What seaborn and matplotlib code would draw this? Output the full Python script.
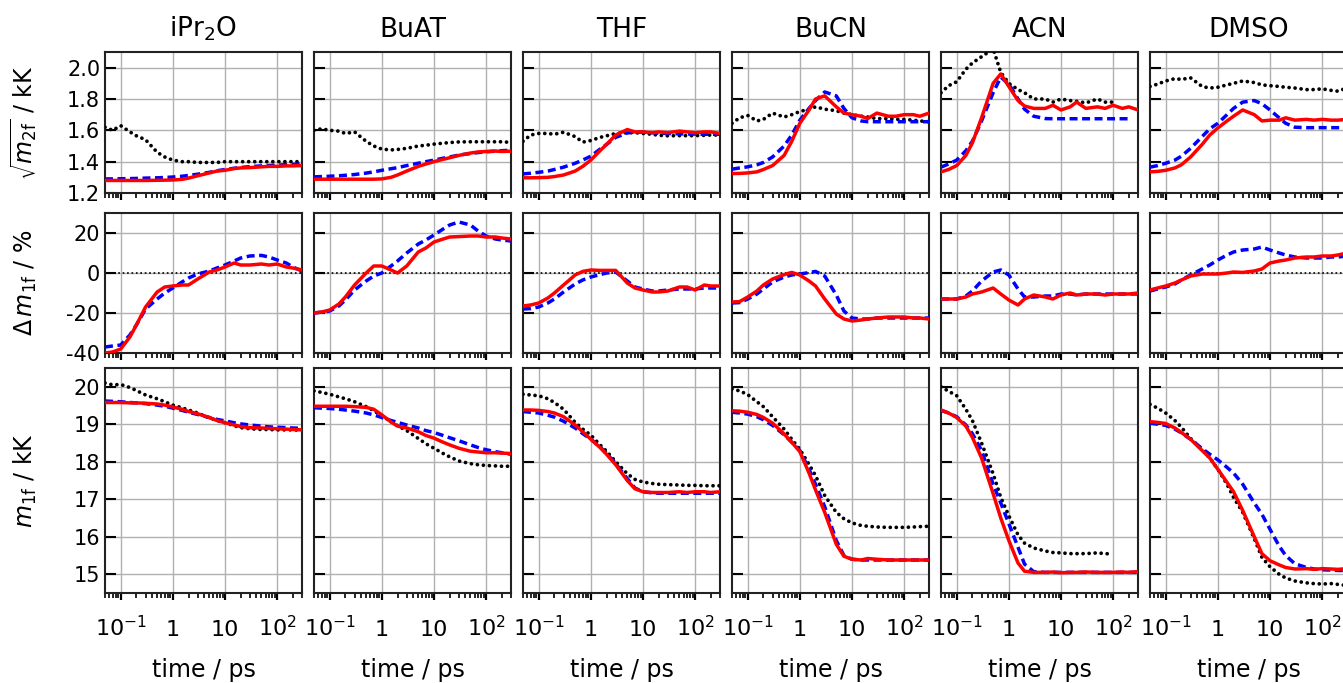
import numpy as np
import pandas as pd
import matplotlib
matplotlib.use("Agg")
from matplotlib import pyplot as plt
from matplotlib import ticker
import seaborn as sns

sns.set_style("ticks")
plt.rcParams["font.family"] = ["DejaVu Sans"]
plt.rcParams["mathtext.fontset"] = "dejavusans"
plt.rcParams["axes.unicode_minus"] = False
plt.rcParams["text.color"] = "black"
plt.rcParams["axes.labelcolor"] = "black"
plt.rcParams["xtick.color"] = "black"
plt.rcParams["ytick.color"] = "black"

nan = np.nan

# common time axis (ps)
time_ps = [0.05, 0.07, 0.1, 0.15, 0.2, 0.3, 0.5, 0.7, 1, 1.5, 2, 3, 5, 7,
           10, 15, 20, 30, 50, 70, 100, 150, 200, 300]

solvents = ["iPr$_2$O", "BuAT", "THF", "BuCN", "ACN", "DMSO"]

# --- sqrt(m2f) / kK : exp = black dots, sim = red solid, mod = blue dashed
ipr_sq_exp = [1.62, 1.60, 1.63, 1.59, 1.565, 1.54, 1.46, 1.43, 1.41, 1.40, 1.40, 1.395, 1.395, 1.395, 1.40, 1.40, 1.40, 1.40, 1.40, 1.40, 1.40, 1.40, 1.40, 1.40]
ipr_sq_sim = [1.28, 1.28, 1.28, 1.28, 1.28, 1.28, 1.281, 1.282, 1.283, 1.287, 1.295, 1.31, 1.328, 1.34, 1.345, 1.356, 1.36, 1.362, 1.367, 1.37, 1.37, 1.373, 1.373, 1.375]
ipr_sq_mod = [1.29, 1.29, 1.291, 1.292, 1.293, 1.295, 1.297, 1.299, 1.302, 1.307, 1.312, 1.32, 1.332, 1.342, 1.35, 1.358, 1.363, 1.368, 1.373, 1.376, 1.378, 1.381, 1.383, 1.386]
buat_sq_exp = [1.60, 1.61, 1.60, 1.595, 1.58, 1.59, 1.53, 1.50, 1.48, 1.475, 1.478, 1.485, 1.50, 1.505, 1.512, 1.518, 1.522, 1.526, 1.527, 1.527, 1.527, 1.527, 1.527, 1.523]
buat_sq_sim = [1.288, 1.288, 1.288, 1.288, 1.288, 1.288, 1.288, 1.288, 1.29, 1.30, 1.315, 1.34, 1.37, 1.385, 1.40, 1.415, 1.425, 1.44, 1.455, 1.462, 1.465, 1.468, 1.465, 1.467]
buat_sq_mod = [1.303, 1.305, 1.307, 1.31, 1.313, 1.318, 1.327, 1.335, 1.345, 1.355, 1.362, 1.375, 1.39, 1.40, 1.41, 1.422, 1.43, 1.442, 1.452, 1.458, 1.463, 1.467, 1.47, 1.473]
thf_sq_exp = [1.53, 1.57, 1.58, 1.58, 1.575, 1.588, 1.56, 1.525, 1.535, 1.555, 1.565, 1.58, 1.585, 1.585, 1.58, 1.575, 1.568, 1.565, 1.566, 1.566, 1.566, 1.568, 1.57, 1.57]
thf_sq_sim = [1.297, 1.297, 1.298, 1.30, 1.305, 1.315, 1.34, 1.37, 1.41, 1.47, 1.51, 1.57, 1.605, 1.59, 1.59, 1.585, 1.59, 1.585, 1.595, 1.59, 1.585, 1.59, 1.59, 1.58]
thf_sq_mod = [1.322, 1.326, 1.332, 1.34, 1.35, 1.365, 1.39, 1.41, 1.435, 1.48, 1.51, 1.555, 1.583, 1.59, 1.588, 1.585, 1.582, 1.58, 1.578, 1.577, 1.576, 1.575, 1.575, 1.575]
bucn_sq_exp = [1.645, 1.68, 1.695, 1.66, 1.67, 1.71, 1.685, 1.70, 1.72, 1.735, 1.75, 1.735, 1.725, 1.71, 1.70, 1.69, 1.685, 1.675, 1.675, 1.67, 1.67, 1.665, 1.66, 1.655]
bucn_sq_sim = [1.324, 1.325, 1.328, 1.335, 1.35, 1.375, 1.44, 1.53, 1.645, 1.73, 1.80, 1.82, 1.75, 1.71, 1.70, 1.69, 1.675, 1.71, 1.69, 1.69, 1.70, 1.70, 1.69, 1.71]
bucn_sq_mod = [1.352, 1.36, 1.367, 1.38, 1.395, 1.43, 1.50, 1.57, 1.665, 1.74, 1.79, 1.845, 1.82, 1.74, 1.68, 1.66, 1.655, 1.655, 1.655, 1.655, 1.655, 1.655, 1.655, 1.655]
acn_sq_exp = [1.84, 1.885, 1.91, 1.99, 2.03, 2.07, 2.12, 1.97, 1.90, 1.86, 1.84, 1.80, 1.80, 1.78, 1.80, 1.79, 1.785, 1.775, 1.80, 1.78, 1.78, nan, nan, nan]
acn_sq_sim = [1.335, 1.35, 1.375, 1.44, 1.52, 1.68, 1.90, 1.96, 1.88, 1.79, 1.755, 1.74, 1.74, 1.76, 1.73, 1.75, 1.78, 1.74, 1.75, 1.74, 1.76, 1.74, 1.75, 1.73]
acn_sq_mod = [1.365, 1.385, 1.41, 1.47, 1.53, 1.66, 1.84, 1.94, 1.895, 1.80, 1.735, 1.69, 1.675, 1.674, 1.674, 1.674, 1.674, 1.674, 1.674, 1.674, 1.674, 1.674, 1.674, nan]
dmso_sq_exp = [1.88, 1.895, 1.915, 1.93, 1.925, 1.935, 1.88, 1.87, 1.875, 1.89, 1.90, 1.915, 1.905, 1.89, 1.885, 1.88, 1.875, 1.87, 1.86, 1.86, 1.865, 1.855, 1.85, 1.87]
dmso_sq_sim = [1.335, 1.338, 1.345, 1.36, 1.38, 1.43, 1.51, 1.57, 1.615, 1.66, 1.69, 1.73, 1.70, 1.66, 1.665, 1.665, 1.68, 1.665, 1.67, 1.665, 1.67, 1.665, 1.665, 1.67]
dmso_sq_mod = [1.365, 1.375, 1.39, 1.41, 1.435, 1.485, 1.56, 1.61, 1.645, 1.70, 1.74, 1.78, 1.79, 1.77, 1.73, 1.68, 1.645, 1.62, 1.617, 1.617, 1.617, 1.617, 1.617, 1.617]

# --- Delta m1f / %
ipr_d_sim = [-40, -39.5, -38, -32, -26, -17, -9.5, -7, -6.5, -6, -6, -3, 0.5, 1.5, 3, 5, 4, 4, 4.5, 4, 4.5, 3, 2.5, 1.5]
ipr_d_mod = [-37, -36.5, -36, -31, -26, -18, -13, -10, -7.5, -4.5, -2.5, -0.5, 1, 2.5, 4, 6, 7.5, 8.5, 8.8, 8, 6.5, 5, 3, 1]
buat_d_sim = [-20, -19.5, -18.5, -15.5, -12, -6, 0, 3.5, 3.5, 1.5, 0, 3.5, 10.5, 12.5, 15.5, 17, 18, 18.2, 18.5, 18.5, 18, 18, 17.5, 17]
buat_d_mod = [-20, -19.6, -19, -16.5, -13.5, -8.5, -4, -1.5, 0, 3.5, 6, 10, 14.5, 16.5, 19, 22, 24, 25.5, 24, 21, 18.5, 17, 16.5, 16]
thf_d_sim = [-16.5, -16, -15, -12.5, -10, -6, -1, 0.8, 1.5, 1.3, 1.3, 1.3, -5, -7.5, -8.5, -9.5, -9.5, -9, -7, -7, -8.5, -6, -6.5, -6.5]
thf_d_mod = [-18, -17.8, -17, -15, -13, -9.5, -5.5, -3.5, -2, -0.8, 0, 0.5, -4, -7, -8, -9, -9, -8.5, -8, -8, -8, -7.5, -7.5, -7.5]
bucn_d_sim = [-14.5, -14.3, -12, -9, -6, -3, -0.8, 0.3, -1, -4, -6.5, -13, -20.5, -23, -24, -23.5, -23, -22.5, -22, -22, -22, -22.5, -22.5, -23]
bucn_d_mod = [-15, -14.8, -13, -10.5, -8, -4.5, -2, -1, -0.5, 0.2, 0.8, -1.5, -11, -19, -22.5, -23, -23, -22.5, -22.5, -22.5, -22.5, -22.5, -22.5, -22.5]
acn_d_sim = [-13, -13, -13, -12, -10.5, -9.5, -7.5, -10.5, -13.5, -16, -13, -11, -12, -13, -11, -10, -11, -10.5, -10.5, -11, -10.5, -10.5, -10.5, -10]
acn_d_mod = [-13, -13, -13, -11.5, -9, -4, 0.5, 1.5, -1, -8, -12, -12, -11.5, -11.5, -10.5, -10.5, -11, -10.5, -10.5, -10.5, -10.5, -10.5, -10.5, -10.5]
dmso_d_sim = [-8.5, -7.5, -6.5, -5, -3.5, -1.5, -0.5, -0.5, -0.5, 0, 0.5, 0.3, 1, 2, 5, 6, 6.5, 7.5, 8, 8, 8.5, 8.5, 9, 10]
dmso_d_mod = [-9, -8, -7, -5.5, -3.5, -1, 2, 4, 6.5, 9, 10.5, 11.5, 12, 13, 11.5, 10, 9, 8, 7.5, 7.5, 7.5, 8, 8, 8.5]

# --- m1f / kK
ipr_m_exp = [20.1, 20.05, 20.06, 19.98, 19.9, 19.78, 19.68, 19.6, 19.51, 19.44, 19.38, 19.3, 19.17, 19.1, 19.04, 18.96, 18.91, 18.88, 18.86, 18.86, 18.85, 18.85, 18.85, 18.84]
ipr_m_sim = [19.58, 19.58, 19.58, 19.57, 19.57, 19.56, 19.54, 19.51, 19.46, 19.4, 19.34, 19.28, 19.18, 19.1, 19.04, 18.98, 18.94, 18.91, 18.9, 18.89, 18.88, 18.87, 18.86, 18.85]
ipr_m_mod = [19.62, 19.61, 19.6, 19.58, 19.57, 19.55, 19.51, 19.48, 19.43, 19.37, 19.32, 19.26, 19.18, 19.13, 19.09, 19.04, 19.01, 18.98, 18.95, 18.93, 18.92, 18.91, 18.9, 18.89]
buat_m_exp = [19.89, 19.85, 19.8, 19.73, 19.68, 19.6, 19.47, 19.36, 19.23, 19.07, 18.96, 18.83, 18.62, 18.48, 18.36, 18.22, 18.13, 18.02, 17.95, 17.92, 17.9, 17.89, 17.88, 17.88]
buat_m_sim = [19.48, 19.48, 19.48, 19.48, 19.48, 19.47, 19.45, 19.4, 19.25, 19.06, 18.95, 18.9, 18.8, 18.7, 18.63, 18.52, 18.45, 18.36, 18.28, 18.26, 18.24, 18.24, 18.23, 18.22]
buat_m_mod = [19.44, 19.43, 19.42, 19.4, 19.38, 19.35, 19.3, 19.25, 19.18, 19.1, 19.05, 18.98, 18.9, 18.83, 18.78, 18.7, 18.64, 18.56, 18.45, 18.38, 18.32, 18.27, 18.24, 18.2]
thf_m_exp = [19.8, 19.78, 19.76, 19.68, 19.58, 19.4, 19.05, 18.87, 18.71, 18.45, 18.28, 18.0, 17.68, 17.53, 17.46, 17.42, 17.4, 17.39, 17.38, 17.37, 17.37, 17.36, 17.36, 17.36]
thf_m_sim = [19.38, 19.38, 19.37, 19.34, 19.3, 19.2, 18.98, 18.8, 18.6, 18.38, 18.2, 17.92, 17.5, 17.28, 17.2, 17.18, 17.18, 17.18, 17.2, 17.18, 17.2, 17.2, 17.18, 17.2]
thf_m_mod = [19.34, 19.32, 19.3, 19.24, 19.19, 19.08, 18.9, 18.75, 18.6, 18.4, 18.22, 17.95, 17.55, 17.3, 17.2, 17.17, 17.16, 17.16, 17.16, 17.16, 17.16, 17.16, 17.16, 17.16]
bucn_m_exp = [19.94, 19.89, 19.79, 19.6, 19.47, 19.2, 18.87, 18.6, 18.33, 17.93, 17.63, 17.1, 16.65, 16.48, 16.37, 16.3, 16.28, 16.26, 16.25, 16.25, 16.25, 16.26, 16.27, 16.28]
bucn_m_sim = [19.36, 19.35, 19.32, 19.26, 19.18, 19.03, 18.74, 18.52, 18.27, 17.7, 17.25, 16.65, 15.8, 15.48, 15.4, 15.38, 15.42, 15.4, 15.38, 15.38, 15.38, 15.38, 15.38, 15.38]
bucn_m_mod = [19.32, 19.3, 19.27, 19.2, 19.12, 18.97, 18.72, 18.52, 18.3, 17.8, 17.4, 16.8, 15.9, 15.5, 15.4, 15.38, 15.38, 15.38, 15.38, 15.38, 15.38, 15.38, 15.38, 15.38]
acn_m_exp = [20.0, 19.88, 19.76, 19.4, 19.1, 18.5, 17.68, 17.05, 16.56, 16.05, 15.83, 15.7, 15.62, 15.58, 15.57, 15.55, 15.55, 15.55, 15.57, 15.55, 15.54, nan, nan, nan]
acn_m_sim = [19.38, 19.3, 19.18, 18.95, 18.65, 18.1, 17.15, 16.5, 15.9, 15.3, 15.08, 15.05, 15.05, 15.06, 15.04, 15.05, 15.05, 15.06, 15.05, 15.05, 15.05, 15.06, 15.05, 15.07]
acn_m_mod = [19.37, 19.3, 19.2, 18.98, 18.75, 18.3, 17.4, 16.9, 16.35, 15.72, 15.27, 15.07, 15.05, 15.05, 15.05, 15.05, 15.05, 15.05, 15.05, 15.05, 15.05, 15.05, 15.05, 15.05]
dmso_m_exp = [19.53, 19.43, 19.3, 19.1, 18.92, 18.62, 18.32, 18.1, 17.8, 17.4, 17.05, 16.65, 15.95, 15.45, 15.2, 15.0, 14.9, 14.82, 14.77, 14.75, 14.74, 14.75, 14.73, 14.7]
dmso_m_sim = [19.07, 19.05, 19.02, 18.9, 18.78, 18.6, 18.3, 18.1, 17.8, 17.45, 17.2, 16.7, 16.0, 15.55, 15.36, 15.25, 15.18, 15.14, 15.15, 15.13, 15.15, 15.14, 15.13, 15.15]
dmso_m_mod = [19.03, 19.0, 18.97, 18.87, 18.77, 18.6, 18.35, 18.2, 18.05, 17.85, 17.7, 17.4, 16.9, 16.6, 16.2, 15.75, 15.5, 15.28, 15.18, 15.14, 15.12, 15.11, 15.1, 15.1]

# rows of the figure: (exp, sim, mod) per solvent
rows = [
    [(ipr_sq_exp, ipr_sq_sim, ipr_sq_mod), (buat_sq_exp, buat_sq_sim, buat_sq_mod),
     (thf_sq_exp, thf_sq_sim, thf_sq_mod), (bucn_sq_exp, bucn_sq_sim, bucn_sq_mod),
     (acn_sq_exp, acn_sq_sim, acn_sq_mod), (dmso_sq_exp, dmso_sq_sim, dmso_sq_mod)],
    [(None, ipr_d_sim, ipr_d_mod), (None, buat_d_sim, buat_d_mod),
     (None, thf_d_sim, thf_d_mod), (None, bucn_d_sim, bucn_d_mod),
     (None, acn_d_sim, acn_d_mod), (None, dmso_d_sim, dmso_d_mod)],
    [(ipr_m_exp, ipr_m_sim, ipr_m_mod), (buat_m_exp, buat_m_sim, buat_m_mod),
     (thf_m_exp, thf_m_sim, thf_m_mod), (bucn_m_exp, bucn_m_sim, bucn_m_mod),
     (acn_m_exp, acn_m_sim, acn_m_mod), (dmso_m_exp, dmso_m_sim, dmso_m_mod)],
]
ylabels = [r"$\sqrt{m_\mathrm{2f}}$ / kK", r"$\Delta\,m_\mathrm{1f}$ / %", r"$m_\mathrm{1f}$ / kK"]
ylims = [(1.2, 2.1), (-40, 30), (14.5, 20.5)]
yticks = [[1.2, 1.4, 1.6, 1.8, 2.0], [-40, -20, 0, 20], [15, 16, 17, 18, 19, 20]]
ytick_labels = [["1.2", "1.4", "1.6", "1.8", "2.0"], ["-40", "-20", "0", "20"],
                ["15", "16", "17", "18", "19", "20"]]

# figure layout in pixels (figure is wider than the saved canvas on the right)
W, H = 1343, 683
fig = plt.figure(figsize=(W / 100, H / 100), dpi=100)
col_left = [105, 314, 523, 732, 941, 1150]
col_w = 197
row_span = [(52, 193), (213, 353), (368, 593)]

for r in range(3):
    for c in range(6):
        top, bot = row_span[r]
        ax = fig.add_axes([col_left[c] / W, 1 - bot / H, col_w / W, (bot - top) / H])
        exp, sim, mod = rows[r][c]
        if exp is not None:
            sns.lineplot(x=time_ps, y=exp, ax=ax, color="black", lw=2.7,
                         linestyle=(0, (0.01, 1.6)), dash_capstyle="round", zorder=3)
        sns.lineplot(x=time_ps, y=mod, ax=ax, color="blue", lw=2.5,
                     linestyle=(0, (2.3, 1.3)), zorder=4)
        sns.lineplot(x=time_ps, y=sim, ax=ax, color="red", lw=2.5, zorder=5)
        if r == 1:
            ax.axhline(0, color="black", lw=1.2, ls=":", zorder=2)

        ax.set_xscale("log")
        ax.set_xlim(0.05, 300)
        ax.set_ylim(*ylims[r])
        ax.set_yticks(yticks[r])
        ax.grid(True, which="major", color="#b0b0b0", lw=1.0)
        ax.set_axisbelow(True)
        for s in ax.spines.values():
            s.set_linewidth(1.5)
            s.set_color("#222222")
        ax.tick_params(axis="y", direction="in", length=8, width=1.5, labelsize=15)
        ax.tick_params(axis="x", which="major", direction="out", length=5, width=1.6)
        ax.tick_params(axis="x", which="minor", direction="out", length=3.5, width=1.2)
        ax.xaxis.set_minor_locator(ticker.LogLocator(base=10, subs=np.arange(2, 10), numticks=20))
        ax.xaxis.set_minor_formatter(ticker.NullFormatter())

        if c == 0:
            ax.set_yticklabels(ytick_labels[r])
            ax.set_ylabel(ylabels[r], fontsize=17)
            ax.yaxis.set_label_coords(-0.335, 0.5)
        else:
            ax.set_yticklabels([])
            ax.set_ylabel("")

        if r == 2:
            ax.set_xticks([0.1, 1, 10, 100], [r"$10^{-1}$", "1", "10", r"$10^{2}$"],
                          va="baseline", fontsize=16)
            ax.tick_params(axis="x", which="major", pad=26)
            ax.set_xlabel("time / ps", fontsize=17)
            ax.xaxis.set_label_coords(0.5, -0.29)
        else:
            ax.set_xticks([0.1, 1, 10, 100], [])
            ax.set_xlabel("")

        if r == 0:
            ax.set_title(solvents[c], fontsize=19, pad=11)

fig.savefig("out.png", dpi=100)
